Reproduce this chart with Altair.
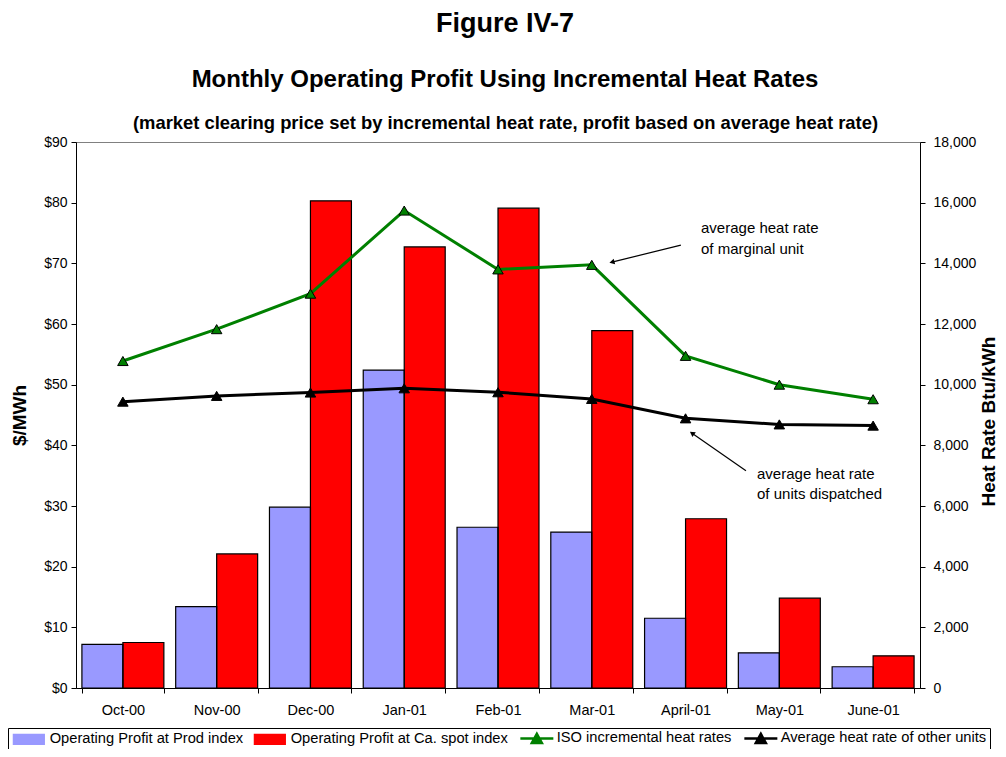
import altair as alt
import pandas as pd

FONT = "Liberation Sans"

months = ["Oct-00", "Nov-00", "Dec-00", "Jan-01", "Feb-01", "Mar-01", "April-01", "May-01", "June-01"]
profit_prod = [7.2, 13.4, 29.8, 52.4, 26.5, 25.7, 11.5, 5.8, 3.5]
profit_spot = [7.5, 22.1, 80.3, 72.7, 79.1, 58.9, 27.9, 14.8, 5.3]
iso_hr = [10780, 11830, 13000, 15740, 13800, 13950, 10950, 10000, 9520]
avg_hr = [9440, 9630, 9740, 9880, 9750, 9530, 8890, 8690, 8650]

bar_series = ["Operating Profit at Prod index", "Operating Profit at Ca. spot index"]
line_series = ["ISO incremental heat rates", "Average heat rate of other units"]
series_colors = ["#9999FF", "#FF0000", "#008000", "#000000"]

# annotations (x in month units from the left edge, y in $/MWh)
note_text = ["average heat rate", "of marginal unit", "average heat rate", " of units dispatched"]
note_x = [6.665, 6.665, 7.262, 7.262]
note_y = [75.8, 72.4, 35.3, 32.0]
arrow_x = [6.45, 7.144]
arrow_y = [73.0, 35.8]
arrow_x2 = [5.715, 6.569]
arrow_y2 = [70.2, 42.0]
arrow_angle = [256, 305]

bars_df = pd.DataFrame({
    "month": months * 2,
    "series": [bar_series[0]] * 9 + [bar_series[1]] * 9,
    "value": profit_prod + profit_spot,
})
lines_df = pd.DataFrame({
    "month": months * 2,
    "series": [line_series[0]] * 9 + [line_series[1]] * 9,
    "value": iso_hr + avg_hr,
})
notes_df = pd.DataFrame({"text": note_text, "x": note_x, "y": note_y})
arrows_df = pd.DataFrame({"x": arrow_x, "y": arrow_y, "x2": arrow_x2, "y2": arrow_y2, "angle": arrow_angle})

is_line = "(datum.value == 'ISO incremental heat rates' || datum.value == 'Average heat rate of other units')"

legend = alt.Legend(
    title=None, orient="none", legendX=-68, legendY=586, direction="horizontal",
    columns=4, symbolSize=100, labelOffset=24, columnPadding=7, padding=3,
    strokeColor="black", labelFont=FONT, labelFontSize=14.7, labelColor="black",
    labelLimit=400, symbolOpacity=1,
    symbolType={"expr": f"{is_line} ? 'M-1,0H5.6M1.3,0.9L2.3,-0.9L3.3,0.9Z' : 'M-1,-1H5.2V1H-1Z'"},
    symbolStrokeColor={"expr": f"{is_line} ? scale('color', datum.value) : 'black'"},
    symbolStrokeWidth={"expr": f"{is_line} ? 2.5 : 1.2"},
)

color_scale = alt.Scale(domain=bar_series + line_series, range=series_colors)

xb = alt.X("month:N", sort=months,
           scale=alt.Scale(paddingInner=0.126, paddingOuter=0.063),
           axis=alt.Axis(title=None, labelAngle=0, tickBand="extent", tickSize=5,
                         labelPadding=10, labelFontSize=14.5))
xob = alt.XOffset("series:N", sort=bar_series, scale=alt.Scale(paddingInner=0, paddingOuter=0))
yb = alt.Y("value:Q", scale=alt.Scale(domain=[0, 90]),
           axis=alt.Axis(title="$/MWh", format="$.0f", values=list(range(0, 100, 10)),
                         orient="left", grid=False, tickSize=5, labelPadding=4,
                         titlePadding=14, labelFontSize=14, titleFontSize=19))
bar_fill = alt.Chart(bars_df).mark_bar().encode(
    x=xb, xOffset=xob, y=yb,
    color=alt.Color("series:N", scale=color_scale, legend=legend),
)
bar_edge = alt.Chart(bars_df).mark_bar(fill=None, stroke="black", strokeWidth=1.2).encode(
    x=xb, xOffset=xob, y=yb)
bars = alt.layer(bar_fill, bar_edge)

xl = alt.X("month:N", sort=months, axis=None)
yl = alt.Y("value:Q", scale=alt.Scale(domain=[0, 18000]),
           axis=alt.Axis(title="Heat Rate Btu/kWh", format=",.0f", values=list(range(0, 20000, 2000)),
                         orient="right", grid=False, tickSize=5, labelPadding=8,
                         titleAngle=-90, titleX=68, titleY=279, titleAlign="center",
                         titleBaseline="middle", labelFontSize=14, titleFontSize=19))
line = alt.Chart(lines_df).mark_line(strokeWidth=3).encode(
    x=xl, y=yl, color=alt.Color("series:N", scale=color_scale), detail="series:N")
pts = alt.Chart(lines_df).mark_point(shape="triangle-up", filled=True, size=110,
                                      stroke="black", strokeWidth=1, opacity=1).encode(
    x=xl, y=yl, color=alt.Color("series:N", scale=color_scale))
lines = alt.layer(line, pts)

top_axis = alt.Axis(orient="top", labels=False, ticks=False, domain=False, grid=False,
                    title="(market clearing price set by incremental heat rate, profit based on average heat rate)",
                    titleFontSize=18.4, titlePadding=10, titleX=429)
xs = alt.Scale(domain=[0, 9])
ys = alt.Scale(domain=[0, 90])
note_marks = alt.Chart(notes_df).mark_text(align="left", baseline="middle", font=FONT,
                                           fontSize=15, color="black").encode(
    x=alt.X("x:Q", scale=xs, axis=top_axis), y=alt.Y("y:Q", scale=ys, axis=None), text="text:N")
arrow_lines = alt.Chart(arrows_df).mark_rule(color="black", strokeWidth=1.2).encode(
    x=alt.X("x:Q", scale=xs, axis=top_axis), y=alt.Y("y:Q", scale=ys, axis=None),
    x2="x2:Q", y2="y2:Q")
arrow_heads = alt.Chart(arrows_df).mark_point(shape="triangle-up", filled=True, size=35,
                                               color="black", opacity=1).encode(
    x=alt.X("x2:Q", scale=xs, axis=top_axis),
    y=alt.Y("y2:Q", scale=ys, axis=None),
    angle=alt.Angle("angle:Q", scale=None))
notes = alt.layer(note_marks, arrow_lines, arrow_heads)

chart = alt.layer(bars, lines, notes).resolve_scale(
    x="independent", y="independent"
).properties(
    width=844, height=546,
    autosize=alt.AutoSizeParams(type="none"),
    padding={"left": 68, "top": 134, "right": 78, "bottom": 61},
    title=alt.TitleParams(
        text="Figure IV-7",
        subtitle="Monthly Operating Profit Using Incremental Heat Rates",
        font=FONT, fontSize=27, fontWeight="bold", color="black",
        subtitleFont=FONT, subtitleFontSize=24, subtitleFontWeight="bold",
        subtitleColor="black", subtitlePadding=30, anchor="middle", offset=20, dx=7,
    ),
).configure_view(stroke="#808080", strokeWidth=1).configure_axis(
    labelFont=FONT, titleFont=FONT, labelColor="black", titleColor="black",
    domainColor="black", tickColor="black", titleFontWeight="bold",
)

chart.save("out.html", embed_options={"renderer": "svg", "actions": False})
